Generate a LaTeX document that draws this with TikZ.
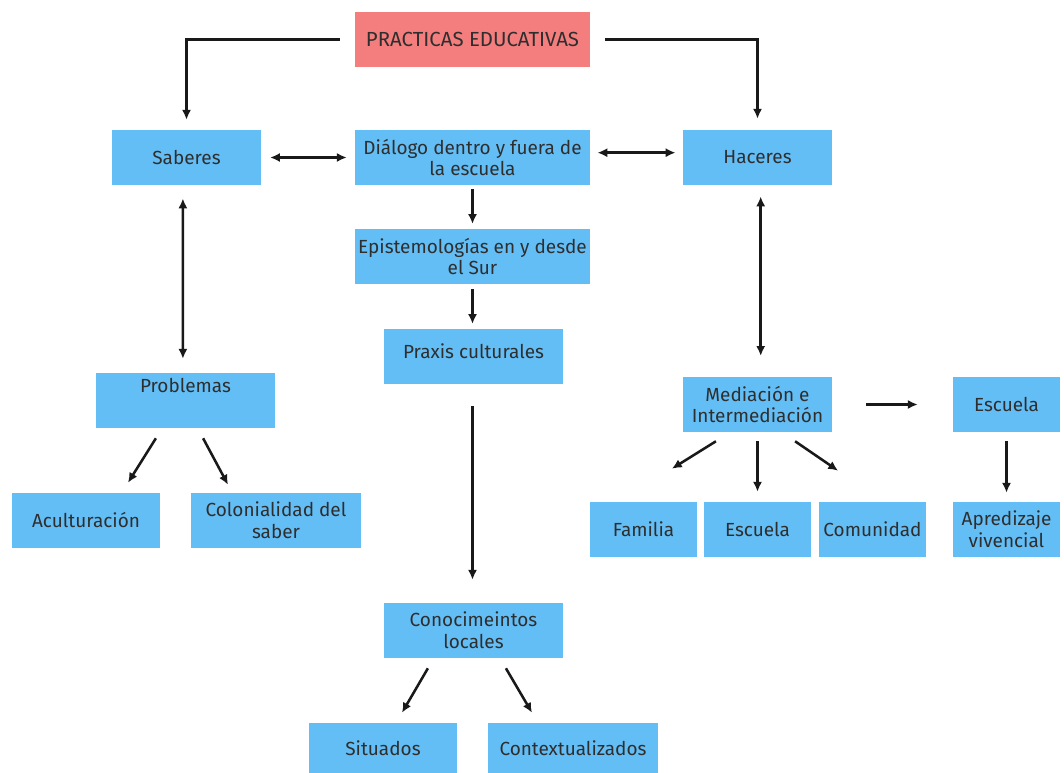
\documentclass[tikz,border=0pt]{standalone}
\usepackage{fontspec}
\setmainfont{Fira Sans}
\usetikzlibrary{arrows.meta}
\definecolor{cajaazul}{HTML}{64BEF6}
\definecolor{cajaroja}{HTML}{F47E7E}
\definecolor{texto}{HTML}{2E2E2E}
\tikzset{
    caja/.style={fill=cajaazul, text=texto, align=center, inner sep=0pt,
        minimum height=1.375cm, font=\fontsize{13.5}{15.6}\selectfont},
    flecha/.style={-{Latex[length=7pt,width=6.5pt]}, line width=1.8pt, draw=black!90},
    doble/.style={{Latex[length=7pt,width=6.5pt]}-{Latex[length=7pt,width=6.5pt]}, line width=1.8pt, draw=black!90}
}
\begin{document}
\begin{tikzpicture}[x=0.025cm,y=-0.025cm]
    \useasboundingbox (0,0) rectangle (1064,773);

    \node[caja, fill=cajaroja, minimum width=5.875cm, font=\fontsize{14.5}{16}\selectfont] (pe) at (472.5,39.5) {PRACTICAS EDUCATIVAS};

    \node[caja, minimum width=3.725cm] (sab) at (186.5,157.5) {Saberes};
    \node[caja, minimum width=5.875cm] (dia) at (472.5,157.5) {Diálogo dentro y fuera de\\la escuela};
    \node[caja, minimum width=3.725cm] (hac) at (757.5,157.5) {Haceres};

    \node[caja, minimum width=5.875cm] (epi) at (472.5,256.5) {Epistemologías en y desde\\el Sur};
    \node[caja, minimum width=4.475cm] (pra) at (473.5,356.5) {Praxis culturales\\[-13pt]\strut};

    \node[caja, minimum width=4.475cm] (prob) at (185.5,400.5) {Problemas\\[1pt]\strut};
    \node[caja, minimum width=3.7cm] (acu) at (86,520.5) {Aculturación};
    \node[caja, minimum width=4.25cm] (col) at (276,520.5) {Colonialidad del\\saber};

    \node[caja, minimum width=3.725cm] (med) at (757.5,404.5) {Mediación e\\Intermediación};
    \node[caja, minimum width=2.675cm] (escr) at (1006.5,404.5) {Escuela};
    \node[caja, minimum width=2.675cm] (fam) at (643.5,529.5) {Familia};
    \node[caja, minimum width=2.675cm] (esc) at (757.5,529.5) {Escuela};
    \node[caja, minimum width=2.675cm] (com) at (872.5,529.5) {Comunidad};
    \node[caja, minimum width=2.675cm] (apr) at (1006.5,529.5) {Apredizaje\\vivencial};

    \node[caja, minimum width=4.475cm] (con) at (473.5,630.5) {Conocimeintos\\locales};
    \node[caja, minimum width=3.7cm, minimum height=1.25cm] (sit) at (383,748) {Situados};
    \node[caja, minimum width=4.25cm, minimum height=1.25cm] (ctx) at (573,748) {Contextualizados};

    % flechas superiores
    \draw[flecha, shorten <=0.375cm, shorten >=0.25cm] (pe.west) -| (sab.north);
    \draw[flecha, shorten <=0.375cm, shorten >=0.275cm] (pe.east) -| (hac.north);
    \draw[doble, shorten <=0.22cm, shorten >=0.2cm] (sab.east) -- (dia.west);
    \draw[doble, shorten <=0.18cm, shorten >=0.18cm] ([yshift=0.12cm]dia.east) -- ([yshift=0.12cm]hac.west);

    % columna central
    \draw[flecha, shorten <=0.1cm, shorten >=0.12cm] (dia.south) -- (epi.north);
    \draw[flecha, shorten <=0.12cm, shorten >=0.12cm] (epi.south) -- ([xshift=-0.025cm]pra.north);
    \draw[flecha, shorten <=0.55cm, shorten >=0.575cm] ([xshift=-0.025cm]pra.south) -- ([xshift=-0.025cm]con.north);
    \draw[flecha] ([xshift=-1.14cm,yshift=-0.25cm]con.south) -- ([xshift=0.475cm,yshift=0.25cm]sit.north);
    \draw[flecha] ([xshift=0.81cm,yshift=-0.25cm]con.south) -- ([xshift=-1.025cm,yshift=0.25cm]ctx.north);

    % rama izquierda
    \draw[doble, shorten <=0.33cm, shorten >=0.35cm] ([xshift=-0.09cm]sab.south) -- ([xshift=-0.065cm]prob.north);
    \draw[flecha] ([xshift=-0.74cm,yshift=-0.25cm]prob.south) -- ([xshift=1.05cm,yshift=0.25cm]acu.north);
    \draw[flecha] ([xshift=0.44cm,yshift=-0.25cm]prob.south) -- ([xshift=-1.2cm,yshift=0.2cm]col.north);

    % rama derecha
    \draw[doble, shorten <=0.28cm, shorten >=0.52cm] ([xshift=0.08cm]hac.south) -- ([xshift=0.08cm]med.north);
    \draw[flecha] ([xshift=-1.04cm,yshift=-0.225cm]med.south) -- ([xshift=0.71cm,yshift=0.825cm]fam.north);
    \draw[flecha, shorten <=0.225cm, shorten >=0.25cm] (med.south) -- (esc.north);
    \draw[flecha] ([xshift=0.94cm,yshift=-0.225cm]med.south) -- ([xshift=-0.86cm,yshift=0.775cm]com.north);
    \draw[flecha, shorten <=0.85cm, shorten >=0.875cm] (med.east) -- (escr.west);
    \draw[flecha, shorten <=0.225cm, shorten >=0.225cm] (escr.south) -- (apr.north);
\end{tikzpicture}
\end{document}
